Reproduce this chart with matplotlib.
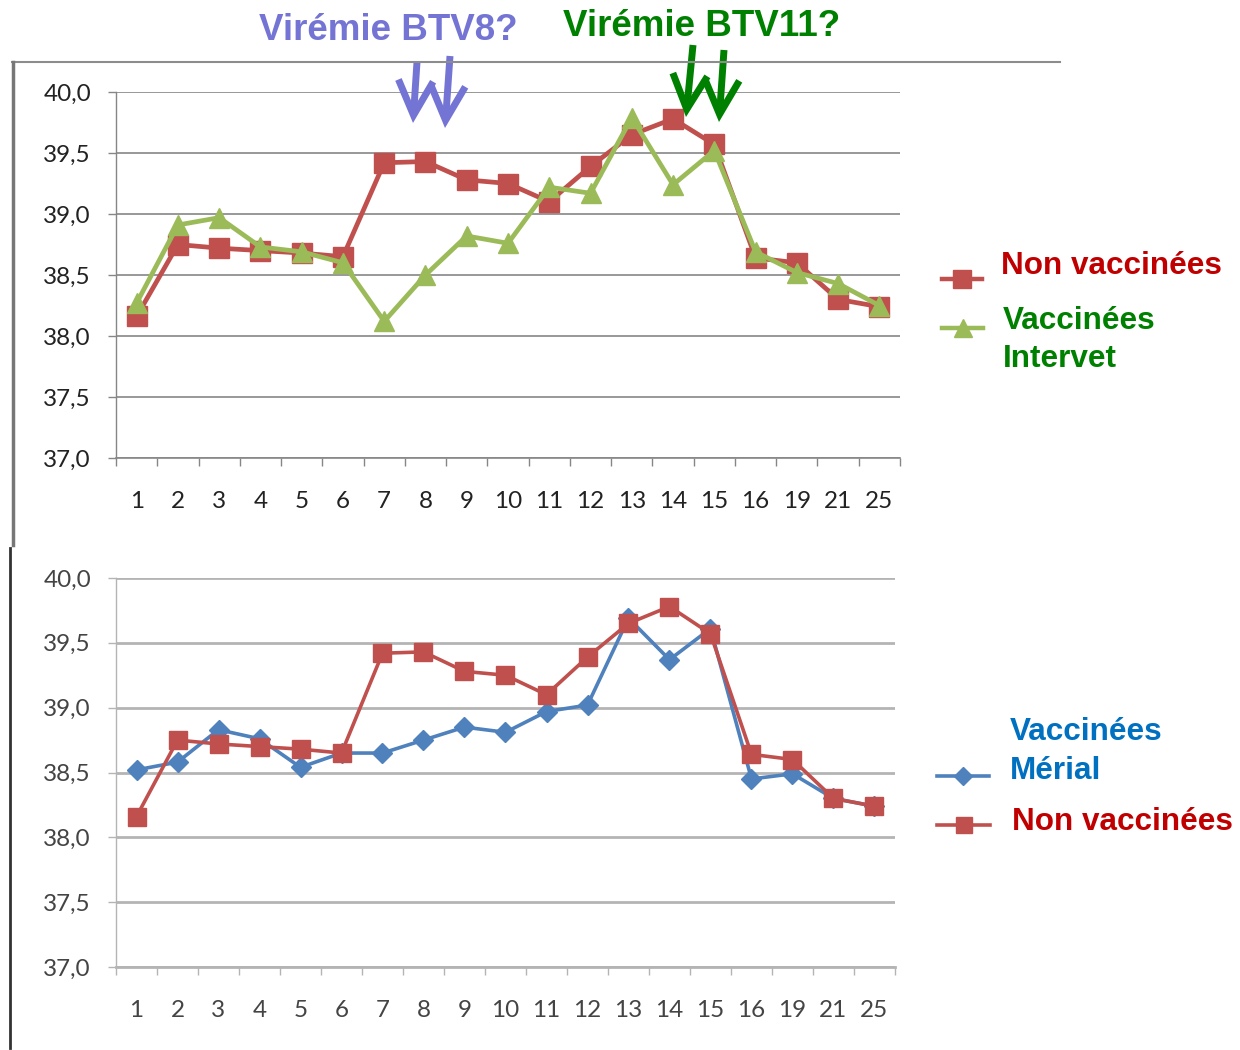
import matplotlib.pyplot as plt
from matplotlib.lines import Line2D
from matplotlib.patches import FancyArrowPatch

W, H = 1240, 1050

# Donnees (temperature, jours apres infection)
jours = ["1", "2", "3", "4", "5", "6", "7", "8", "9", "10",
         "11", "12", "13", "14", "15", "16", "19", "21", "25"]
non_vaccinees = [38.16, 38.75, 38.72, 38.70, 38.68, 38.65, 39.42, 39.43, 39.28, 39.25,
                 39.10, 39.39, 39.65, 39.78, 39.57, 38.64, 38.60, 38.30, 38.24]
intervet = [38.27, 38.91, 38.97, 38.73, 38.69, 38.60, 38.12, 38.50, 38.82, 38.76,
            39.22, 39.17, 39.79, 39.24, 39.52, 38.69, 38.52, 38.43, 38.25]
merial = [38.52, 38.58, 38.83, 38.76, 38.54, 38.65, 38.65, 38.75, 38.85, 38.81,
          38.97, 39.02, 39.69, 39.37, 39.61, 38.45, 38.49, 38.30, 38.24]
y_ticks = [37.0, 37.5, 38.0, 38.5, 39.0, 39.5, 40.0]

ROUGE = "#C0504D"
VERT = "#9BBB59"
BLEU = "#4F81BD"


def fx(x):
    return x / W


def fy(y):
    return 1 - y / H


def setup_axes(ax, grid_color, grid_lw, label_color):
    n = len(jours)
    x = list(range(n))
    ax.set_xlim(-0.5, n - 0.5)
    ax.set_ylim(37.0, 40.0)
    ax.set_yticks(y_ticks)
    ax.set_yticklabels([("%.1f" % v).replace(".", ",") for v in y_ticks])
    ax.set_xticks(x)
    ax.set_xticklabels(jours)
    ax.set_xticks([i - 0.5 for i in range(n + 1)], minor=True)
    ax.tick_params(axis="x", which="major", length=0, pad=24,
                   labelsize=17.5, labelcolor=label_color)
    ax.tick_params(axis="x", which="minor", length=6, width=1, color=grid_color, direction="out")
    ax.tick_params(axis="y", which="major", length=6, width=1, color=grid_color,
                   pad=12, labelsize=17.5, labelcolor=label_color)
    for lab in ax.get_xticklabels() + ax.get_yticklabels():
        lab.set_family("Lato")
    for s in ["top", "right"]:
        ax.spines[s].set_visible(False)
    ax.spines["left"].set_color(grid_color)
    ax.spines["bottom"].set_color(grid_color)
    ax.spines["left"].set_linewidth(1)
    ax.spines["bottom"].set_linewidth(grid_lw)
    ax.grid(axis="y", color=grid_color, lw=grid_lw)
    ax.set_axisbelow(True)
    return x


fig = plt.figure(figsize=(W / 100, H / 100), dpi=100)

# Graphique du haut : Intervet
ax1 = fig.add_axes([fx(116), fy(458), 784 / W, 366 / H])
x = setup_axes(ax1, "#868686", 1.2, "#222222")
ax1.plot(x, non_vaccinees, color=ROUGE, lw=3.4, marker="s", ms=14, clip_on=False, zorder=3)
ax1.plot(x, intervet, color=VERT, lw=3.4, marker="^", ms=15, clip_on=False, zorder=4)

# Graphique du bas : Merial
ax2 = fig.add_axes([fx(116), fy(967), 779 / W, 389 / H])
x = setup_axes(ax2, "#B4B4B4", 2.0, "#444444")
ax2.plot(x, merial, color=BLEU, lw=2.6, marker="D", ms=10, clip_on=False, zorder=3)
ax2.plot(x, non_vaccinees, color=ROUGE, lw=2.6, marker="s", ms=13, clip_on=False, zorder=4)

# cadres de l'image
fig.add_artist(Line2D([fx(12), fx(1060)], [fy(62), fy(62)], color="#8C8C8C", lw=1.5))
fig.add_artist(Line2D([fx(13), fx(13)], [fy(62), fy(545)], color="#777777", lw=2.5))
fig.add_artist(Line2D([fx(10), fx(10)], [fy(548), fy(1048)], color="#333333", lw=2))

# titres et fleches
fig.text(fx(388), fy(30), "Virémie BTV8?", color="#7474D4", fontsize=26.5,
         weight="bold", family="Liberation Sans", ha="center", va="center")
fig.text(fx(702), fy(27), "Virémie BTV11?", color="#008000", fontsize=26.5,
         weight="bold", family="Liberation Sans", ha="center", va="center")

fleches = [((417, 62), (413, 123), "#7474D4"), ((450, 56), (445, 128), "#7474D4"),
           ((693, 45), (686, 117), "#008000"), ((724, 50), (719, 122), "#008000")]
for (x0, y0), (x1, y1), c in fleches:
    fig.add_artist(FancyArrowPatch((fx(x0), fy(y0)), (fx(x1), fy(y1)),
                                   transform=fig.transFigure,
                                   arrowstyle="->,head_length=1.0,head_width=0.5",
                                   mutation_scale=25, lw=5, color=c,
                                   shrinkA=0, shrinkB=0, capstyle="butt",
                                   joinstyle="miter"))


def legende(y, x0, x1, color, marker, ms, lw):
    xm = (x0 + x1) / 2
    fig.add_artist(Line2D([fx(x0), fx(xm), fx(x1)], [fy(y)] * 3, color=color, lw=lw,
                          marker=marker, ms=ms, markevery=[1]))


def texte(x, y, s, color):
    fig.text(fx(x), fy(y), s, color=color, fontsize=22.7, weight="bold",
             family="Liberation Sans", ha="left", va="center")


legende(279, 942, 982, ROUGE, "s", 13, 3.2)
legende(328, 942, 983, VERT, "^", 13, 3.2)
texte(1001, 266, "Non vaccinées", "#C00000")
texte(1003, 321, "Vaccinées", "#008000")
texte(1003, 359, "Intervet", "#008000")

legende(776, 937, 989, BLEU, "D", 9, 2.6)
legende(825, 937, 990, ROUGE, "s", 12, 2.6)
texte(1010, 732, "Vaccinées", "#0070C0")
texte(1010, 771, "Mérial", "#0070C0")
texte(1012, 822, "Non vaccinées", "#C00000")

fig.savefig("out.png", dpi=100)
